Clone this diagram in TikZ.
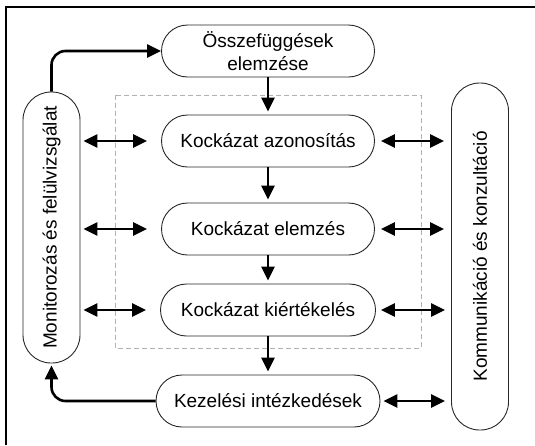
\documentclass[tikz,border=0pt]{standalone}
\usepackage{fontspec}
\setmainfont{Liberation Sans}
\usetikzlibrary{arrows.meta}
\tikzset{>={Triangle[length=14pt,width=13pt]}}

\begin{document}
\begin{tikzpicture}[x=1pt,y=-1pt,
  lepes/.style={draw=black!85, line width=0.9pt, rounded corners=26pt,
    minimum width=213pt, minimum height=52pt, inner sep=0pt, align=center,
    font=\fontsize{19}{23}\selectfont},
  oldal/.style={draw=black!85, line width=0.9pt, rounded corners=28pt,
    minimum height=57pt, inner sep=0pt, rotate=90,
    font=\fontsize{19}{23}\selectfont},
  nyil/.style={->, line width=2.6pt},
  kettos/.style={<->, line width=2.6pt}]
  \useasboundingbox (0,0) rectangle (535,445);

  % keret
  \draw[line width=1.2pt] (6,445) -- (6,7) -- (535,7);
  \draw[dashed, gray!60, line width=0.6pt, dash pattern=on 5pt off 3pt] (115,95) rectangle (421,348);

  % csomopontok
  \node[lepes] (osszef) at (268,51) {Összefüggések\\elemzése};
  \node[lepes] (azon) at (268,141) {Kockázat azonosítás};
  \node[lepes] (elemz) at (268,229) {Kockázat elemzés};
  \node[lepes, minimum width=215pt] (kiert) at (268,310) {Kockázat kiértékelés};
  \node[lepes, minimum width=224pt] (kezel) at (268,401) {Kezelési intézkedések};
  \node[oldal, minimum width=271pt] (monit) at (51.5,227.5) {Monitorozás és felülvizsgálat};
  \node[oldal, minimum width=347pt] (kommu) at (480,256.5) {Kommunikáció és konzultáció};

  % fuggoleges nyilak
  \draw[nyil, shorten >=3pt] (osszef) -- (azon);
  \draw[nyil, shorten >=3pt] (azon) -- (elemz);
  \draw[nyil, shorten >=3pt] (elemz) -- (kiert);
  \draw[nyil, shorten >=3pt] (kiert) -- (kezel);

  % visszacsatolas
  \draw[nyil, rounded corners=14pt] (monit.east) |- (osszef.west);
  \draw[nyil, rounded corners=14pt, shorten >=2pt] (kezel.west) -| (monit.west);

  % ketiranyu nyilak
  \draw[kettos, shorten <=3pt, shorten >=14pt] (monit.south |- azon.west) -- (azon.west);
  \draw[kettos, shorten <=3pt, shorten >=14pt] (monit.south |- elemz.west) -- (elemz.west);
  \draw[kettos, shorten <=3pt, shorten >=14pt] (monit.south |- kiert.west) -- (kiert.west);
  \draw[kettos, shorten <=6pt, shorten >=7pt] (azon.east) -- (kommu.north |- azon.east);
  \draw[kettos, shorten <=6pt, shorten >=7pt] (elemz.east) -- (kommu.north |- elemz.east);
  \draw[kettos, shorten <=5pt, shorten >=6pt] (kiert.east) -- (kommu.north |- kiert.east);
  \draw[kettos, shorten <=3pt, shorten >=6pt] (kezel.east) -- (kommu.north |- kezel.east);
\end{tikzpicture}
\end{document}
